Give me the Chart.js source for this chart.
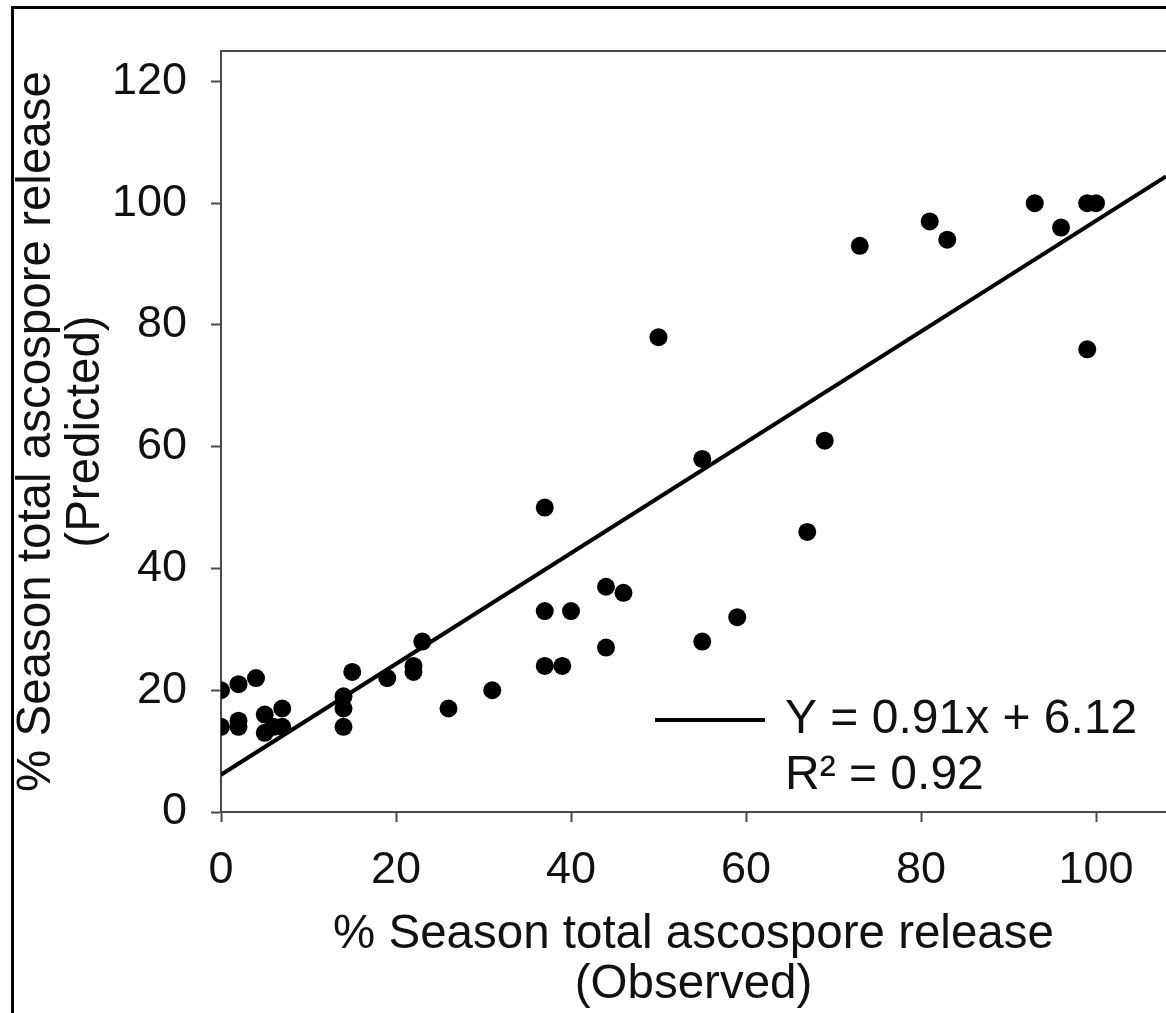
<!DOCTYPE html>
<html>
<head>
<meta charset="utf-8">
<title>Observed vs predicted ascospore release</title>
<script src="https://cdn.jsdelivr.net/npm/chart.js@4.4.1/dist/chart.umd.min.js"></script>
<style>
  html, body { margin: 0; padding: 0; background: #fff; overflow: hidden; }
  canvas { display: block; }
</style>
</head>
<body>
<canvas id="chart" width="1166" height="1013"></canvas>
<script>
// Observed (x) and predicted (y) % of season total ascospore release
var observed  = [0, 0, 2, 2, 2, 4, 5, 5, 6, 7, 7, 14, 14, 14, 15, 19, 22, 22, 23, 26, 31, 37, 39, 37, 40, 44, 46, 44, 37, 50, 55, 55, 59, 67, 69, 73, 81, 83, 93, 96, 99, 100, 99];
var predicted = [20, 14, 21, 15, 14, 22, 16, 13, 14, 17, 14, 19, 17, 14, 23, 22, 24, 23, 28, 17, 20, 24, 24, 33, 33, 37, 36, 27, 50, 78, 58, 28, 32, 46, 61, 93, 97, 94, 100, 96, 100, 100, 76];

// Fitted line end points (Y = 0.91x + 6.12)
var fitX = [0, 108];
var fitY = [6.12, 104.4];
var fitLabel = "Y = 0.91x + 6.12";
var r2Label = "R² = 0.92";

var xTicks = [0, 20, 40, 60, 80, 100];
var yTicks = [0, 20, 40, 60, 80, 100, 120];

var FONT = '"Liberation Sans", Arial, sans-serif';
var AXIS_COLOR = '#4a4a4a';

Chart.defaults.font.family = FONT;
Chart.defaults.color = '#111';

var points = observed.map(function (x, i) { return { x: x, y: predicted[i] }; });
var fitPoints = fitX.map(function (x, i) { return { x: x, y: fitY[i] }; });

// outer frame, top border of the plot box and the in-plot legend
var decorations = {
    id: 'decorations',
    beforeDatasetsDraw: function (chart) {
        var ctx = chart.ctx, a = chart.chartArea;
        ctx.save();
        ctx.strokeStyle = AXIS_COLOR;
        ctx.lineWidth = 2;
        ctx.beginPath();
        ctx.moveTo(a.left, a.top);
        ctx.lineTo(a.right, a.top);
        ctx.stroke();
        ctx.restore();
    },
    afterDraw: function (chart) {
        var ctx = chart.ctx, a = chart.chartArea;
        ctx.save();
        // frame round the figure (right and bottom sides are cut off)
        ctx.strokeStyle = '#000';
        ctx.lineWidth = 3;
        ctx.strokeRect(12.5, 7.5, 2000, 2000);

        // legend
        var lx = a.left + 434, ly = 720;
        ctx.strokeStyle = '#000';
        ctx.lineWidth = 4;
        ctx.beginPath();
        ctx.moveTo(lx, ly);
        ctx.lineTo(lx + 110, ly);
        ctx.stroke();
        ctx.fillStyle = '#111';
        ctx.font = '48px ' + FONT;
        ctx.textBaseline = 'middle';
        ctx.textAlign = 'left';
        ctx.fillText(chart.data.datasets[1].label, lx + 130, ly);
        ctx.fillText(r2Label, lx + 130, ly + 56);
        ctx.restore();
    }
};

var ctx = document.getElementById('chart').getContext('2d');
new Chart(ctx, {
    type: 'scatter',
    data: {
        datasets: [{
            label: 'Observed vs predicted',
            data: points,
            backgroundColor: '#000',
            borderWidth: 0,
            pointRadius: 9,
            pointHoverRadius: 9
        }, {
            type: 'line',
            label: fitLabel,
            data: fitPoints,
            borderColor: '#000',
            borderWidth: 4,
            pointRadius: 0,
            fill: false
        }]
    },
    options: {
        responsive: false,
        animation: false,
        devicePixelRatio: 1,
        layout: { autoPadding: false, padding: { top: 50, left: 0, right: 0, bottom: 0 } },
        plugins: {
            legend: { display: false },
            tooltip: { enabled: false }
        },
        scales: {
            x: {
                type: 'linear',
                min: 0,
                max: 108,
                afterBuildTicks: function (s) { s.ticks = xTicks.map(function (v) { return { value: v }; }); },
                afterFit: function (s) { s.height = 201; },
                grid: { drawOnChartArea: false, drawTicks: true, tickLength: 10, tickWidth: 2, color: AXIS_COLOR },
                border: { display: true, color: AXIS_COLOR, width: 2 },
                ticks: { font: { size: 45, lineHeight: 1.2 }, padding: 22, color: '#111', maxRotation: 0 },
                title: {
                    display: true,
                    text: ['% Season total ascospore release', '(Observed)'],
                    font: { size: 47.5, lineHeight: 1.05 },
                    padding: { top: 0, bottom: 3 },
                    color: '#111'
                }
            },
            y: {
                type: 'linear',
                min: 0,
                max: 125,
                afterBuildTicks: function (s) { s.ticks = yTicks.map(function (v) { return { value: v }; }); },
                afterFit: function (s) { s.width = 221; },
                grid: { drawOnChartArea: false, drawTicks: true, tickLength: 10, tickWidth: 2, color: AXIS_COLOR },
                border: { display: true, color: AXIS_COLOR, width: 2 },
                ticks: { font: { size: 45, lineHeight: 1.2 }, padding: 24, color: '#111' },
                title: {
                    display: true,
                    text: ['% Season total ascospore release', '(Predicted)'],
                    font: { size: 47.5, lineHeight: 1.02 },
                    padding: { top: 13, bottom: 0 },
                    color: '#111'
                }
            }
        }
    },
    plugins: [decorations]
});
</script>
</body>
</html>
